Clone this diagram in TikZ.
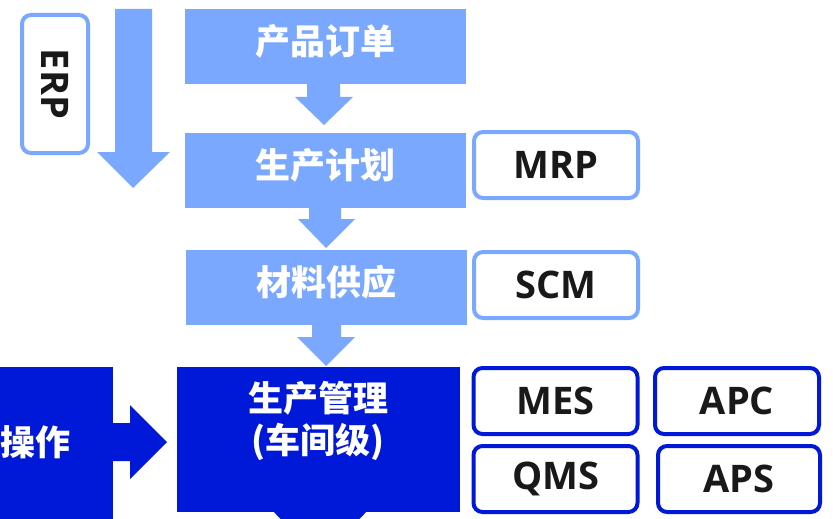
\documentclass[tikz,border=0pt]{standalone}
\usepackage{fontspec}
\setmainfont{Open Sans}
\newfontfamily\cjk{Noto Sans CJK SC}
\definecolor{lb}{HTML}{7BA8FF}
\definecolor{db}{HTML}{0019D9}
\begin{document}
\begin{tikzpicture}[x=1pt,y=-1pt,
  fbox/.style={fill=lb,draw=none,minimum width=281pt,minimum height=75pt,inner sep=0pt},
  ftext/.style={text=white,font=\cjk\bfseries\fontsize{35}{40}\selectfont},
  sysbox/.style={draw=#1,line width=4pt,rounded corners=9pt,fill=white,inner sep=0pt,minimum width=164pt,minimum height=66pt,font=\bfseries\fontsize{38}{44}\selectfont,text=black!90},
  arr/.style={fill=#1,draw=none}]
\useasboundingbox (0,0) rectangle (833,519);
% ERP
\node[sysbox=lb,minimum width=66pt,minimum height=138pt] (erp) at (55,84) {};
\node[rotate=-90,font=\bfseries\fontsize{38}{44}\selectfont,text=black!90] (erpt) at (erp.center) {ERP};
\fill[lb] (115,9) -- (152,9) -- (152,152) -- (170,152) -- (133,188) -- (97,152) -- (115,152) -- cycle;
% column boxes
\node[fbox] (order) at (325.5,46.5) {};
\node[ftext] (ordert) at (325.5,41.5) {产品订单};
\node[fbox] (plan) at (325.5,170) {};
\node[ftext] (plant) at (325.5,165) {生产计划};
\node[fbox] (supply) at (326,287) {};
\node[ftext] (supplyt) at (326,282) {材料供应};
% down arrows
\fill[lb] (307,84) -- (340,84) -- (340,97) -- (353,97) -- (324,125) -- (295,97) -- (307,97) -- cycle;
\fill[lb] (309,207) -- (341,207) -- (341,219) -- (355,219) -- (326,248) -- (298,219) -- (309,219) -- cycle;
\fill[lb] (312,324) -- (341,324) -- (341,337) -- (355,337) -- (326,366) -- (297,337) -- (312,337) -- cycle;
% bottom arrow under management box
\fill[db] (262,500) -- (378,500) -- (320,559) -- cycle;
% management
\node[fill=db,minimum width=283pt,minimum height=145pt,inner sep=0pt] (mgmt) at (318.5,439.5) {};
\node[align=center,text=white,font=\cjk\bfseries\fontsize{35}{42}\selectfont] (mgmtt) at (318,421) {生产管理\\(车间级)};
% operation
\node[fill=db,minimum width=113pt,minimum height=152pt,inner sep=0pt,anchor=north west] (op) at (0,367) {};
\node[text=white,font=\cjk\bfseries\fontsize{35}{40}\selectfont] (opt) at (36,442) {操作};
\fill[db] (112,423) -- (130,423) -- (130,405) -- (167,442) -- (130,479) -- (130,461) -- (112,461) -- cycle;
% system boxes
\node[sysbox=lb] (mrp) at (556,165) {MRP};
\node[sysbox=lb] (scm) at (556,285) {SCM};
\node[sysbox=db] (mes) at (555.5,401) {MES};
\node[sysbox=db] (apc) at (737,401) {APC};
\node[sysbox=db] (qms) at (555.5,479) {QMS};
\node[sysbox=db,minimum width=162pt] (aps) at (739,479) {APS};
\end{tikzpicture}
\end{document}
